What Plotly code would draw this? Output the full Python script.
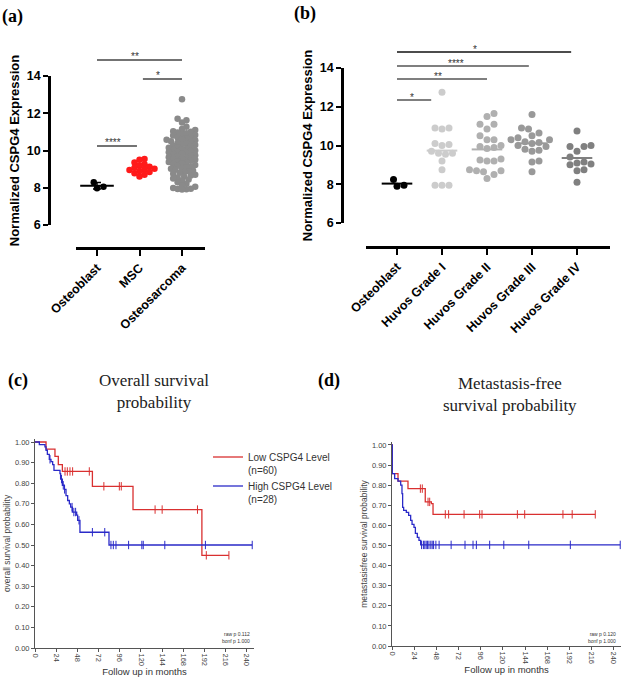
import numpy as np
import plotly.graph_objects as go

W, H = 624, 679

# ---------------- data ----------------
# panel (a)
cats_a = ["Osteoblast", "MSC", "Osteosarcoma"]
osteoblast_a = [8.30, 7.97, 8.05]
msc_a = [9.55, 9.50, 9.36, 9.26, 9.20, 9.13, 9.08, 9.02, 8.98, 8.95, 8.90, 8.84, 8.78, 8.70, 8.60]
osteosarcoma_a = [12.75, 11.70, 11.62, 11.50, 11.28, 11.15, 11.10, 11.04, 11.00, 10.96,
                  10.92, 10.88, 10.83, 10.80, 10.74, 10.70, 10.66, 10.61, 10.58, 10.55,
                  10.50, 10.47, 10.42, 10.38, 10.35, 10.30, 10.27, 10.22, 10.18, 10.15,
                  10.10, 10.07, 10.03, 10.00, 9.97, 9.93, 9.90, 9.86, 9.82, 9.78,
                  9.75, 9.71, 9.68, 9.64, 9.60, 9.57, 9.53, 9.50, 9.46, 9.42,
                  9.38, 9.35, 9.31, 9.27, 9.22, 9.18, 9.15, 9.10, 9.06, 9.02,
                  8.97, 8.93, 8.88, 8.84, 8.80, 8.75, 8.70, 8.66, 8.60, 8.55,
                  8.50, 8.44, 8.38, 8.30, 8.22, 8.14, 8.05, 7.98, 7.95, 7.93, 7.92, 7.90]
sig_a_x0 = [0, 1.08, 0]
sig_a_x1 = [2, 2, 0.94]
sig_a_y = [14.86, 13.84, 10.24]
sig_a_text = ["**", "*", "****"]

# panel (b)
cats_b = ["Osteoblast", "Huvos Grade I", "Huvos Grade II", "Huvos Grade III", "Huvos Grade IV"]
osteoblast_b = [8.25, 7.90, 7.95]
grade1_b = [12.75, 10.90, 10.85, 10.90, 10.10, 10.00, 10.05, 9.70, 9.60, 9.55, 9.60, 9.20, 8.75, 7.95, 7.95, 7.95]
grade2_b = [11.65, 11.50, 11.10, 11.10, 10.85, 10.50, 10.30, 10.30, 10.00, 9.95, 9.90, 9.85,
            9.30, 9.25, 9.20, 9.20, 8.70, 8.65, 8.70, 8.75, 8.30, 8.50]
grade3_b = [11.60, 10.90, 10.85, 10.65, 10.50, 10.40, 10.30, 10.30, 10.20, 10.15, 10.10,
            10.00, 9.95, 9.80, 9.75, 9.70, 9.20, 9.15, 8.65]
grade4_b = [10.75, 10.00, 9.95, 9.95, 9.70, 9.40, 9.15, 9.10, 9.00, 9.05, 8.75, 8.70, 8.10]
sig_b_x0 = [0, 0, 0, 0]
sig_b_x1 = [3.87, 2.93, 2.0, 0.76]
sig_b_y = [14.83, 14.10, 13.43, 12.35]
sig_b_text = ["*", "****", "**", "*"]

# panel (c) overall survival
os_low_t = [0, 12.5, 22.6, 26.4, 31, 65, 111, 189]
os_low_s = [1.0, 0.965, 0.93, 0.89, 0.857, 0.785, 0.672, 0.45]
os_low_end = 219.6
os_low_cens = [34, 36.6, 39.6, 42.6, 61.5, 78, 95.5, 97.7, 136, 144, 184, 194, 219.6]
os_high_t = [0, 4.9, 11.3, 12.5, 14, 16.2, 18.1, 20, 21.5, 28.3, 29, 31, 33.2, 35.1, 37, 38.9,
             40.4, 42.3, 47.2, 48.3, 50.9, 83.8]
os_high_s = [1.0, 0.987, 0.976, 0.96, 0.94, 0.916, 0.905, 0.89, 0.862, 0.846, 0.82, 0.79, 0.77,
             0.74, 0.716, 0.70, 0.684, 0.66, 0.645, 0.62, 0.562, 0.50]
os_high_end = 246
os_high_cens = [17, 30, 32, 33.5, 42, 44, 46, 49.8, 65, 79, 86, 88.7, 91.7, 106, 121, 122.6, 147, 193, 246]

# panel (d) metastasis-free survival
mfs_low_t = [0, 0.3, 6.5, 17.3, 36, 42.6, 44.4]
mfs_low_s = [1.0, 0.858, 0.82, 0.783, 0.717, 0.708, 0.655]
mfs_low_end = 220
mfs_low_cens = [30.7, 32.8, 39, 40.8, 57.7, 61.3, 78, 94.9, 97.4, 135.7, 143.6, 185, 195, 220]
mfs_high_t = [0, 0.3, 2.9, 6.5, 9.4, 10.8, 11.5, 12.6, 15.5, 18, 20.2, 21.7, 23.8, 25.3, 27.4, 29.2, 31]
mfs_high_s = [1.0, 0.858, 0.833, 0.82, 0.80, 0.758, 0.69, 0.675, 0.665, 0.65, 0.625, 0.605,
              0.59, 0.56, 0.54, 0.525, 0.503]
mfs_high_end = 247
mfs_high_cens = [32, 34, 35.5, 37, 38.5, 40, 42, 43.5, 45, 47.5, 51, 64, 79, 87.7, 91.3, 105.7,
                 121, 148, 193, 247]

legend_names = ["Low CSPG4 Level<br>(n=60)", "High CSPG4 Level<br>(n=28)"]
surv_ticks = list(range(0, 241, 24))
prob_ticks = [0.0, 0.1, 0.2, 0.3, 0.4, 0.5, 0.6, 0.7, 0.8, 0.9, 1.0]

# ---------------- helpers ----------------
def fx(px):
    return px / W


def fy(py):
    return 1 - py / H


def swarm(vals, ppu_y, ppu_x, d):
    vals = np.asarray(vals, float)
    order = np.argsort(vals, kind="stable")
    px_list, py_list = [], []
    off = np.zeros(len(vals))
    step = d / 2.0
    for i in order:
        y = vals[i] * ppu_y
        k = 0
        chosen = None
        while chosen is None:
            cands = [0.0] if k == 0 else [k * step, -k * step]
            for c in cands:
                if all((c - a) ** 2 + (y - b) ** 2 >= d * d for a, b in zip(px_list, py_list)):
                    chosen = c
                    break
            k += 1
        off[i] = chosen / ppu_x
        px_list.append(chosen)
        py_list.append(y)
    return off


def step_at(ts, ss, t):
    v = ss[0]
    for a, b in zip(ts, ss):
        if a <= t:
            v = b
    return v


BOLD = dict(family="Liberation Sans", size=12.5, color="black", weight="bold")
STAR = dict(family="Liberation Sans", size=10, color="#333333")

fig = go.Figure()

# ---------------- panel (a) ----------------
A_Y6, A_Y14, A_SIGTOP = 225, 76, 25
A_XL, A_XR, A_X0, A_DX = 76, 205, 97, 42.5
ppy_a = (A_Y6 - A_Y14) / 8.0
groups_a = [osteoblast_a, msc_a, osteosarcoma_a]
colors_a = ["#000000", "#ff1a1a", "#8a8a8a"]
dists_a = [6.5, 5.0, 4.4]
for k, (vals, col, dd) in enumerate(zip(groups_a, colors_a, dists_a)):
    off = swarm(vals, ppy_a, A_DX, dd)
    fig.add_trace(go.Scatter(x=k + off, y=vals, mode="markers", xaxis="x", yaxis="y",
                             marker=dict(size=6.5, color=col), showlegend=False, hoverinfo="skip"))
m = float(np.mean(osteoblast_a))
sd = float(np.std(osteoblast_a, ddof=1))
fig.add_trace(go.Scatter(x=[0], y=[m], mode="markers", xaxis="x", yaxis="y", showlegend=False,
                         marker=dict(symbol="line-ew-open", size=24, color="black",
                                     line=dict(width=2, color="black")),
                         error_y=dict(type="data", array=[sd], width=4, thickness=1.5, color="black"),
                         hoverinfo="skip"))
for x0, x1, yv, txt in zip(sig_a_x0, sig_a_x1, sig_a_y, sig_a_text):
    fig.add_trace(go.Scatter(x=[x0, x1], y=[yv, yv], mode="lines", xaxis="x", yaxis="y2",
                             line=dict(color="#444444", width=1.5), showlegend=False, hoverinfo="skip"))
    fig.add_annotation(x=(x0 + x1) / 2 - 0.1, y=yv, xref="x", yref="y2", text=txt, showarrow=False,
                       yanchor="bottom", yshift=-4, font=STAR)

# ---------------- panel (b) ----------------
B_Y6, B_Y14, B_SIGTOP = 223, 68, 25
B_XL, B_XR, B_X0, B_DX = 366, 610, 397, 45.0
ppy_b = (B_Y6 - B_Y14) / 8.0
groups_b = [osteoblast_b, grade1_b, grade2_b, grade3_b, grade4_b]
colors_b = ["#000000", "#cccccc", "#b0b0b0", "#999999", "#808080"]
for k, (vals, col) in enumerate(zip(groups_b, colors_b)):
    off = swarm(vals, ppy_b, B_DX, 7.0)
    fig.add_trace(go.Scatter(x=k + off, y=vals, mode="markers", xaxis="x3", yaxis="y3",
                             marker=dict(size=7, color=col), showlegend=False, hoverinfo="skip"))
    mv = float(np.mean(vals))
    fig.add_trace(go.Scatter(x=[k - 0.34, k + 0.34], y=[mv, mv], mode="lines", xaxis="x3", yaxis="y3",
                             line=dict(color=col, width=2), showlegend=False, hoverinfo="skip"))
for i, (x0, x1, yv, txt) in enumerate(zip(sig_b_x0, sig_b_x1, sig_b_y, sig_b_text)):
    col = "#111111" if i == 0 else "#555555"
    fig.add_trace(go.Scatter(x=[x0, x1], y=[yv, yv], mode="lines", xaxis="x3", yaxis="y4",
                             line=dict(color=col, width=1.5), showlegend=False, hoverinfo="skip"))
    fig.add_annotation(x=(x0 + x1) / 2 - 0.1 * (x1 - x0) / 2, y=yv, xref="x3", yref="y4", text=txt,
                       showarrow=False, yanchor="bottom", yshift=-5, font=STAR)

# ---------------- survival panels ----------------
RED, BLUE = "#d93030", "#2a2ac8"


def add_km(ts, ss, end, cens, col, xa, ya, name, show):
    xs = list(ts) + [end]
    ys = list(ss) + [ss[-1]]
    fig.add_trace(go.Scatter(x=xs, y=ys, mode="lines", line=dict(color=col, width=1.3, shape="hv"),
                             xaxis=xa, yaxis=ya, name=name, showlegend=show, hoverinfo="skip"))
    cy = [step_at(ts, ss, t) for t in cens]
    fig.add_trace(go.Scatter(x=cens, y=cy, mode="markers", xaxis=xa, yaxis=ya, showlegend=False,
                             marker=dict(symbol="line-ns", size=6, color=col, line=dict(width=1, color=col)),
                             hoverinfo="skip"))


add_km(os_low_t, os_low_s, os_low_end, os_low_cens, RED, "x5", "y5", legend_names[0], True)
add_km(os_high_t, os_high_s, os_high_end, os_high_cens, BLUE, "x5", "y5", legend_names[1], True)
add_km(mfs_low_t, mfs_low_s, mfs_low_end, mfs_low_cens, RED, "x6", "y6", legend_names[0], False)
add_km(mfs_high_t, mfs_high_s, mfs_high_end, mfs_high_cens, BLUE, "x6", "y6", legend_names[1], False)

# geometry of survival panels
C_XL, C_PPM, C_Y1, C_Y0 = 35, 0.883, 442, 648
D_XL, D_PPM, D_Y1, D_Y0 = 392, 0.924, 445, 646
XMAX, YMAX = 248, 1.015

small = dict(family="Liberation Sans", size=7.5, color="#444444")


def surv_axes(xl, ppm, y1, y0, ytitle):
    ppy = y0 - y1
    xa = dict(domain=[fx(xl), fx(xl + XMAX * ppm)], range=[0, XMAX], showline=True, linecolor="#555555",
              linewidth=1, ticks="outside", ticklen=3, tickcolor="#555555", tickvals=surv_ticks,
              tickangle=90, tickfont=small, showgrid=False, zeroline=False, automargin=False,
              title=dict(text="Follow up in months", font=dict(family="Liberation Sans", size=9.5, color="#333333"),
                         standoff=2))
    ya = dict(domain=[fy(y0), fy(y1 - (YMAX - 1) * ppy)], range=[0, YMAX], showline=True,
              linecolor="#555555", linewidth=1, ticks="outside", ticklen=3, tickcolor="#555555",
              tickvals=prob_ticks, tickformat=".2f", tickfont=small, showgrid=False, zeroline=False,
              automargin=False,
              title=dict(text=ytitle, font=dict(family="Liberation Sans", size=8.5, color="#444444"), standoff=2))
    return xa, ya


xa5, ya5 = surv_axes(C_XL, C_PPM, C_Y1, C_Y0, "overall survival probability")
xa6, ya6 = surv_axes(D_XL, D_PPM, D_Y1, D_Y0, "metastasisfree survival probability")
xa5["anchor"] = "y5"
ya5["anchor"] = "x5"
xa6["anchor"] = "y6"
ya6["anchor"] = "x6"

common_cat = dict(showline=True, linecolor="black", linewidth=2.5, ticks="outside", ticklen=6, tickwidth=2,
                  tickcolor="black", tickangle=-45, tickfont=BOLD, showgrid=False, zeroline=False,
                  anchor="free", automargin=False)
common_y = dict(showline=True, linecolor="black", linewidth=2.5, ticks="outside", ticklen=5, tickwidth=2,
                tickcolor="black", tickvals=[6, 8, 10, 12, 14], tickfont=BOLD, showgrid=False, zeroline=False,
                anchor="free", automargin=False,
                title=dict(text="Normalized CSPG4 Expression",
                           font=dict(family="Liberation Sans", size=13, color="black", weight="bold"), standoff=3))

fig.update_layout(
    width=W, height=H, margin=dict(l=0, r=0, t=0, b=0, autoexpand=False),
    paper_bgcolor="white", plot_bgcolor="rgba(0,0,0,0)",
    xaxis=dict(domain=[fx(A_XL), fx(A_XR)], range=[(A_XL - A_X0) / A_DX, (A_XR - A_X0) / A_DX],
               position=fy(248), tickvals=[0, 1, 2], ticktext=cats_a, **common_cat),
    yaxis=dict(domain=[fy(A_Y6), fy(A_Y14)], range=[6, 14], position=fx(49), **common_y),
    yaxis2=dict(domain=[fy(A_Y6), fy(A_SIGTOP)], range=[6, 14 + (A_Y14 - A_SIGTOP) / ppy_a],
                visible=False, anchor="x", automargin=False),
    xaxis3=dict(domain=[fx(B_XL), fx(B_XR)], range=[(B_XL - B_X0) / B_DX, (B_XR - B_X0) / B_DX],
                position=fy(247), tickvals=[0, 1, 2, 3, 4], ticktext=cats_b, **common_cat),
    yaxis3=dict(domain=[fy(B_Y6), fy(B_Y14)], range=[6, 14], position=fx(342), **common_y),
    yaxis4=dict(domain=[fy(B_Y6), fy(B_SIGTOP)], range=[6, 14 + (B_Y14 - B_SIGTOP) / ppy_b],
                visible=False, anchor="x3", automargin=False),
    xaxis5=xa5, yaxis5=ya5, xaxis6=xa6, yaxis6=ya6,
    legend=dict(x=fx(208), y=fy(444), xanchor="left", yanchor="top", valign="top",
                font=dict(family="Liberation Sans", size=10, color="#333333"),
                bgcolor="rgba(0,0,0,0)", tracegroupgap=2, itemwidth=30),
    showlegend=True,
)

lab = dict(family="Liberation Serif", size=18, color="black", weight="bold")
for txt, x, y in [("(a)", 0, 16), ("(b)", 292, 13), ("(c)", 6, 380), ("(d)", 316, 380)]:
    fig.add_annotation(x=fx(x), y=fy(y), xref="paper", yref="paper", text=txt, showarrow=False,
                       xanchor="left", yanchor="middle", font=lab)
ttl = dict(family="Liberation Serif", size=17, color="#222222")
fig.add_annotation(x=fx(154), y=fy(392), xref="paper", yref="paper", text="Overall survival<br>probability",
                   showarrow=False, xanchor="center", yanchor="middle", font=ttl)
fig.add_annotation(x=fx(510), y=fy(394), xref="paper", yref="paper",
                   text="Metastasis-free<br>survival probability",
                   showarrow=False, xanchor="center", yanchor="middle", font=ttl)
tiny = dict(family="Liberation Sans", size=5, color="#333333")
fig.add_annotation(x=fx(252), y=fy(637), xref="paper", yref="paper", text="raw p 0.112<br>bonf p 1.000",
                   showarrow=False, xanchor="right", yanchor="middle", align="right", font=tiny)
fig.add_annotation(x=fx(618), y=fy(637), xref="paper", yref="paper", text="raw p 0.120<br>bonf p 1.000",
                   showarrow=False, xanchor="right", yanchor="middle", align="right", font=tiny)

fig.write_html("out.html", config={"displayModeBar": False},
               post_script="document.body.style.margin='0';document.body.style.overflow='hidden';")
